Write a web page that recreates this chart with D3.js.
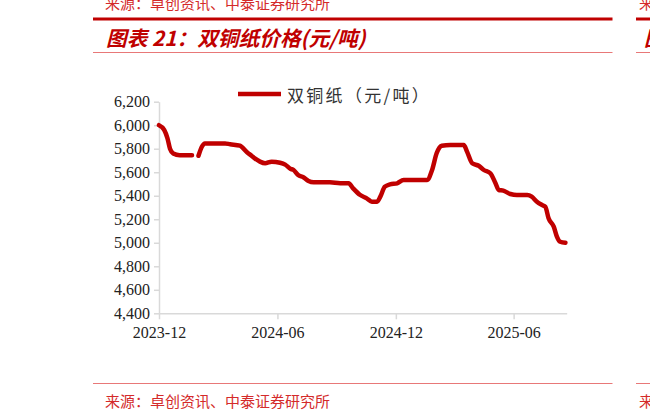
<!DOCTYPE html>
<html>
<head>
<meta charset="utf-8">
<script src="https://cdn.jsdelivr.net/npm/d3@7"></script>
<style>
  body { margin: 0; background: #fff; }
  svg { display: block; }
</style>
</head>
<body>
<div id="container"></div>
<script>
      //Data (null = gap in the series)
      var dates = ["2023-12-01","2023-12-09","2023-12-14","2023-12-18","2023-12-23","2024-01-02","2024-01-21",
                   "2024-01-26",
                   "2024-01-31","2024-02-05","2024-02-10","2024-03-12","2024-03-20","2024-04-04","2024-04-15",
                   "2024-04-22","2024-04-27","2024-05-05","2024-05-13","2024-05-23","2024-06-05","2024-06-13",
                   "2024-06-21","2024-06-26","2024-07-03","2024-07-11","2024-07-19","2024-07-27","2024-08-21",
                   "2024-09-06","2024-09-19","2024-09-26","2024-10-07","2024-10-17","2024-10-25","2024-11-02",
                   "2024-11-07","2024-11-14","2024-11-22","2024-12-03","2024-12-13","2025-01-18","2025-01-26",
                   "2025-02-02","2025-02-10","2025-02-23","2025-03-16","2025-03-21","2025-03-29","2025-04-08",
                   "2025-04-16","2025-04-26","2025-05-04","2025-05-09","2025-05-16","2025-05-27","2025-06-06",
                   "2025-06-22","2025-06-29","2025-07-07","2025-07-15","2025-07-20","2025-07-25","2025-08-02",
                   "2025-08-07","2025-08-12","2025-08-20"];
      var prices = [6000,5960,5890,5800,5760,5745,5745,
                    null,
                    5740,5815,5845,5845,5838,5826,5770,
                    5740,5718,5690,5676,5690,5681,5665,
                    5630,5619,5576,5557,5525,5514,5514,
                    5506,5506,5463,5406,5378,5349,5349,
                    5392,5477,5497,5506,5534,5534,5619,
                    5761,5826,5832,5832,5775,5676,5655,
                    5619,5591,5506,5449,5443,5415,5406,
                    5406,5392,5349,5321,5306,5208,5137,
                    5051,5009,5000];
      var yTicks = [4400,4600,4800,5000,5200,5400,5600,5800,6000,6200];
      var xTicks = ["2023-12-01","2024-06-01","2024-12-01","2025-06-01"];
      var seriesName = "双铜纸（元/吨）";
      var title = "图表 21：双铜纸价格(元/吨)";
      var source = "来源：卓创资讯、中泰证券研究所";

      //Width and height
      var w = 650;
      var h = 418;
      var red = "#c00000";
      var parse = d3.timeParse("%Y-%m-%d");

      var data = dates.map(function(d, i) { return { date: parse(d), value: prices[i] }; });

      var x = d3.scaleTime()
              .domain([parse("2023-12-01"), parse("2025-08-22")])
              .range([159, 566.7]);
      var y = d3.scaleLinear()
              .domain([4400, 6200])
              .range([313.3, 101.7]);

      //Create SVG
      var svg = d3.select("#container")
            .append("svg")
            .attr("width", w)
            .attr("height", h);

      //Report frame: red rules, title, source (neighbouring panel peeks in at the right edge)
      function cjk(xp, yp, size, txt) {
        return svg.append("text")
           .attr("x", xp).attr("y", yp)
           .attr("dominant-baseline", "central")
           .style("font-family", "'Noto Sans CJK SC', sans-serif")
           .style("font-size", size + "px")
           .text(txt);
      }

      cjk(105, 2, 15, source).attr("fill", "#d42a2a");
      cjk(639, 2, 15, "来").attr("fill", "#d42a2a");

      [[93, 612.5], [636, 650]].forEach(function(seg) {
        svg.append("line").attr("x1", seg[0]).attr("x2", seg[1]).attr("y1", 19).attr("y2", 19)
           .attr("stroke", red).attr("stroke-width", 3);
        svg.append("line").attr("x1", seg[0]).attr("x2", seg[1]).attr("y1", 52.5).attr("y2", 52.5)
           .attr("stroke", "#e87878").attr("stroke-width", 1);
        svg.append("line").attr("x1", seg[0]).attr("x2", seg[1]).attr("y1", 383.5).attr("y2", 383.5)
           .attr("stroke", "#e87878").attr("stroke-width", 1);
      });

      cjk(106, 37, 20.7, title).attr("fill", red)
         .style("font-weight", "bold").style("font-style", "italic");
      cjk(644, 37, 20.7, "图").attr("fill", red)
         .style("font-weight", "bold").style("font-style", "italic");

      cjk(105, 400, 15, source).attr("fill", "#d42a2a");
      cjk(639, 400, 15, "来").attr("fill", "#d42a2a");

      //Axes
      var yAxis = svg.append("g")
         .attr("transform", "translate(159,0)")
         .call(d3.axisLeft(y).tickValues(yTicks).tickFormat(d3.format(",")).tickSize(5).tickSizeOuter(0).tickPadding(4));
      var xAxis = svg.append("g")
         .attr("transform", "translate(0,313.3)")
         .call(d3.axisBottom(x).tickValues(xTicks.map(parse)).tickFormat(d3.timeFormat("%Y-%m")).tickSize(6).tickSizeOuter(0).tickPadding(7));

      [yAxis, xAxis].forEach(function(g) {
        g.selectAll("path, line").attr("stroke", "#d9d9d9").attr("stroke-width", 1.5);
        g.selectAll("text")
         .style("font-family", "'Liberation Serif', 'Times New Roman', serif")
         .style("font-size", "16px")
         .attr("fill", "#222");
      });

      //Price line
      var line = d3.line()
            .defined(function(d) { return d.value !== null; })
            .x(function(d) { return x(d.date); })
            .y(function(d) { return y(d.value); })
            .curve(d3.curveMonotoneX);

      svg.append("path")
         .datum(data)
         .attr("d", line)
         .attr("fill", "none")
         .attr("stroke", red)
         .attr("stroke-width", 4.5)
         .attr("stroke-linecap", "round")
         .attr("stroke-linejoin", "round");

      //Legend
      svg.append("line")
         .attr("x1", 238).attr("x2", 281).attr("y1", 94).attr("y2", 94)
         .attr("stroke", red).attr("stroke-width", 4.5);
      cjk(287, 94, 17, seriesName)
         .style("letter-spacing", "2.3px")
         .attr("fill", "#333");
</script>
</body>
</html>
